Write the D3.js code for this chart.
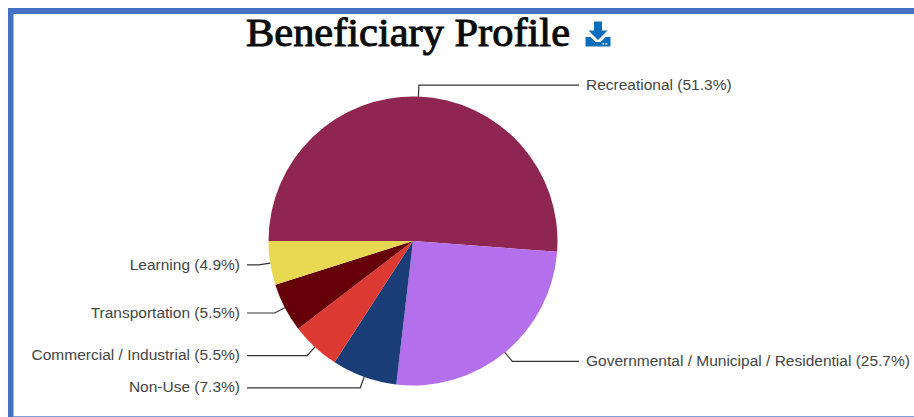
<!DOCTYPE html>
<html><head><meta charset="utf-8">
<style>html,body{margin:0;padding:0;background:#fff;overflow:hidden}svg{display:block}</style>
<script src="https://cdn.jsdelivr.net/npm/d3@7/dist/d3.min.js"></script>
</head><body>
<script>
const categories = ["Recreational","Governmental / Municipal / Residential","Non-Use","Commercial / Industrial","Transportation","Learning"];
const percents = [51.3,25.7,7.3,5.5,5.5,4.9];
const colors = ["#8e2651","#b36fec","#1a3d78","#dc3a33","#650008","#e8d852"];
const chartTitle = "Beneficiary Profile";

const W=914,H=417,cx=413,cy=241,R=144.5;
const svg=d3.select("body").append("svg").attr("width",W).attr("height",H);
// frame
svg.append("rect").attr("x",8).attr("y",8).attr("width",5.5).attr("height",H-8).attr("fill","#4472c4");
svg.append("rect").attr("x",8).attr("y",8).attr("width",W-8).attr("height",6).attr("fill","#4472c4");
svg.append("rect").attr("x",13).attr("y",416).attr("width",W-13).attr("height",1).attr("fill","#7ba0dc");
// title
svg.append("text").attr("x",246).attr("y",46).attr("font-family","'Liberation Serif',serif").attr("font-size",39.5)
  .attr("textLength",324).attr("lengthAdjust","spacingAndGlyphs")
  .attr("fill","#0b0b0b").attr("stroke","#0b0b0b").attr("stroke-width",1).text(chartTitle);
// download icon
const ic=svg.append("g").attr("transform","translate(585.5,21.5)").attr("fill","#0a6ebd");
ic.append("path").attr("d","M8.5 0h8v9h5.5l-9.5 9.5-9.5-9.5h5.5z");
ic.append("path").attr("d","M0 15.5h5l5 5h5l5-5h5v9.5h-25z");
ic.append("rect").attr("x",17).attr("y",21.5).attr("width",1.6).attr("height",1.6).attr("fill","#fff");
ic.append("rect").attr("x",20).attr("y",21.5).attr("width",1.6).attr("height",1.6).attr("fill","#fff");

const data=categories.map((c,i)=>({c,v:percents[i],col:colors[i]}));
const pie=d3.pie().sort(null).value(d=>d.v).startAngle(-Math.PI/2).endAngle(1.5*Math.PI);
const arcs=pie(data);
const arc=d3.arc().innerRadius(0).outerRadius(R);
const g=svg.append("g").attr("transform",`translate(${cx},${cy})`);
g.selectAll("path.s").data(arcs).join("path").attr("class","s").attr("d",arc).attr("fill",d=>d.data.col);
const lead=166,textOff=173,elbow=R+11.5;
const line=d3.line();
arcs.forEach(a=>{
  const m=(a.startAngle+a.endAngle)/2, s=Math.sin(m), c=-Math.cos(m);
  const side=s>=0?1:-1;
  const p0=[s*R,c*R],p1=[s*elbow,c*elbow],p2=[side*lead,c*elbow];
  g.append("path").attr("d",line([p0,p1,p2])).attr("fill","none").attr("stroke","#333").attr("stroke-width",1.2);
  g.append("text").attr("x",side*textOff).attr("y",c*elbow).attr("dy","0.3em")
   .attr("text-anchor",side>0?"start":"end").attr("font-family","'Liberation Sans',Arial,sans-serif")
   .attr("font-size",15.5).attr("fill","#444").text(`${a.data.c} (${a.data.v}%)`);
});
</script>
</body></html>
